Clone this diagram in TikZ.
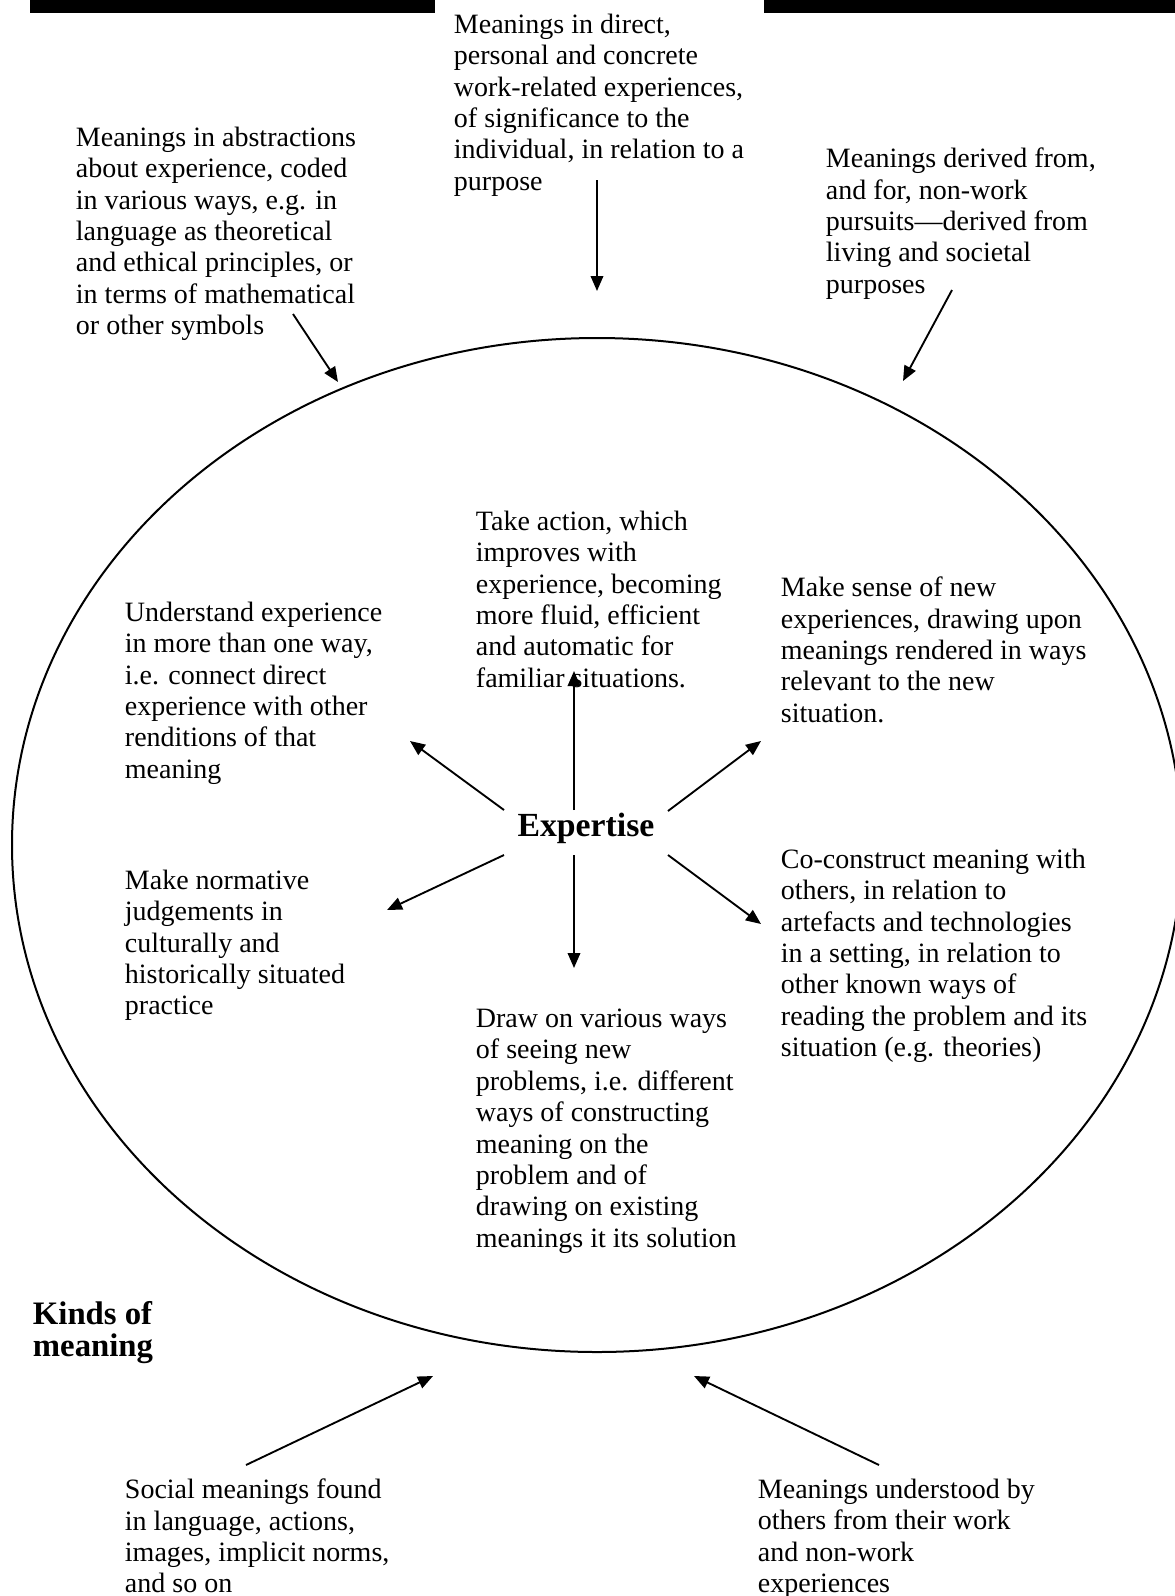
\documentclass[tikz,border=0pt]{standalone}
\usepackage{fontspec}
\setmainfont{Liberation Serif}
\usetikzlibrary{arrows.meta}

\tikzset{
  meaning/.style={anchor=north west, inner sep=0pt, align=left, yshift=8.785pt,
    font=\fontsize{11.2}{12.55}\selectfont, execute at begin node=\strut},
  heading/.style={inner sep=0pt, font=\fontsize{13.1}{12.8}\selectfont\bfseries}
}

\begin{document}
\begin{tikzpicture}[x=0.4pt, y=-0.4pt, line width=0.75pt, >={Triangle[length=6pt, width=5pt]}]
  \useasboundingbox (0,0) rectangle (1175,1596);
  \fill (30,0) rectangle (435,13);
  \fill (764,0) rectangle (1175,13);
  \draw[line width=0.8pt] (597,845) ellipse [x radius=585, y radius=507];

  % kinds of meaning, outside
  \node[meaning] (direct) at (453,35) {Meanings in direct,\\personal and concrete\\work-related experiences,\\of significance to the\\individual, in relation to a\\purpose};
  \node[meaning] (abstract) at (75,148) {Meanings in abstractions\\about experience, coded\\in various ways, e.g. in\\language as theoretical\\and ethical principles, or\\in terms of mathematical\\or other symbols};
  \node[meaning] (nonwork) at (825,169) {Meanings derived from,\\and for, non-work\\pursuits—derived from\\living and societal\\purposes};
  \node[meaning] (social) at (124,1500) {Social meanings found\\in language, actions,\\images, implicit norms,\\and so on};
  \node[meaning] (others) at (757,1500) {Meanings understood by\\others from their work\\and non-work\\experiences};
  \node[heading, anchor=north west, align=left, yshift=8.96pt, execute at begin node=\strut] (kinds) at (32,1323) {Kinds of\\meaning};

  % what expertise does, inside
  \node[heading, anchor=base, font=\fontsize{13.5}{14}\selectfont\bfseries] (exp) at (586,836) {Expertise};
  \node[meaning] (action) at (475,532) {Take action, which\\improves with\\experience, becoming\\more fluid, efficient\\and automatic for\\familiar situations.};
  \node[meaning] (understand) at (124,623) {Understand experience\\in more than one way,\\i.e. connect direct\\experience with other\\renditions of that\\meaning};
  \node[meaning] (sense) at (780,598) {Make sense of new\\experiences, drawing upon\\meanings rendered in ways\\relevant to the new\\situation.};
  \node[meaning] (judge) at (124,891) {Make normative\\judgements in\\culturally and\\historically situated\\practice};
  \node[meaning] (cocon) at (780,870) {Co-construct meaning with\\others, in relation to\\artefacts and technologies\\in a setting, in relation to\\other known ways of\\reading the problem and its\\situation (e.g. theories)};
  \node[meaning] (draw) at (475,1030) {Draw on various ways\\of seeing new\\problems, i.e. different\\ways of constructing\\meaning on the\\problem and of\\drawing on existing\\meanings it its solution};

  % arrow ends
  \coordinate (direct-s) at (597,180);
  \coordinate (direct-e) at (597,291);
  \coordinate (abstract-s) at (293,314);
  \coordinate (abstract-e) at (338,382);
  \coordinate (nonwork-s) at (952,290);
  \coordinate (nonwork-e) at (903,381);
  \coordinate (social-s) at (246,1465);
  \coordinate (social-e) at (433,1376);
  \coordinate (others-s) at (879,1465);
  \coordinate (others-e) at (694,1376);

  \coordinate (exp-n) at (574,810);
  \coordinate (exp-nw) at (504,810);
  \coordinate (exp-ne) at (668,811);
  \coordinate (exp-sw) at (504,855);
  \coordinate (exp-s) at (574,855);
  \coordinate (exp-se) at (668,855);
  \coordinate (action-e) at (574,671);
  \coordinate (understand-e) at (410,741);
  \coordinate (sense-e) at (761,741);
  \coordinate (judge-e) at (387,910);
  \coordinate (draw-e) at (574,968);
  \coordinate (cocon-e) at (761,924);

  \path[->] (direct-s) edge (direct-e);
  \path[->] (abstract-s) edge (abstract-e);
  \path[->] (nonwork-s) edge (nonwork-e);
  \path[->] (social-s) edge (social-e);
  \path[->] (others-s) edge (others-e);

  \path[->] (exp-n) edge (action-e);
  \path[->] (exp-nw) edge (understand-e);
  \path[->] (exp-ne) edge (sense-e);
  \path[->] (exp-sw) edge (judge-e);
  \path[->] (exp-s) edge (draw-e);
  \path[->] (exp-se) edge (cocon-e);
\end{tikzpicture}
\end{document}
